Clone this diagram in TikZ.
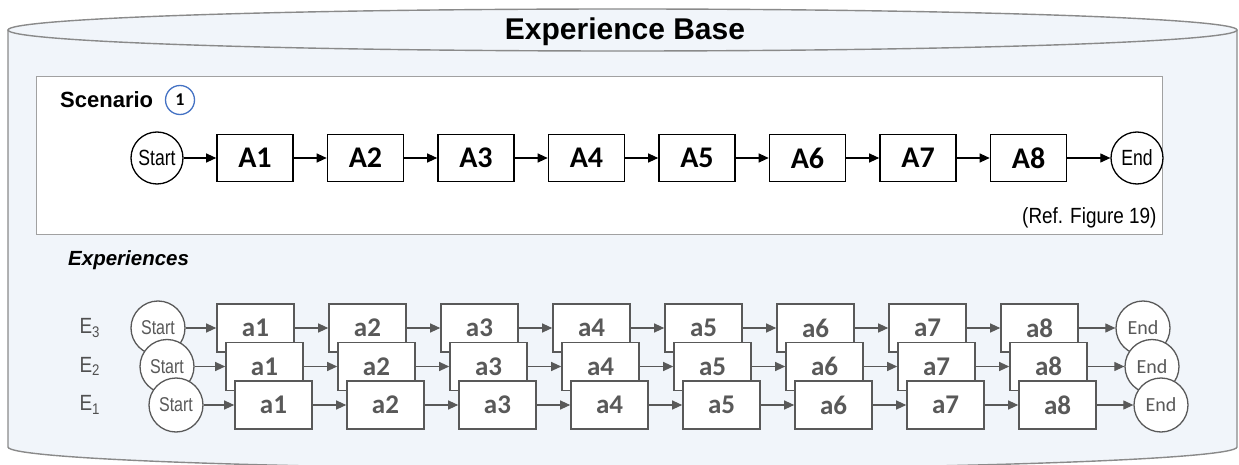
\documentclass[tikz,border=0pt]{standalone}
\usepackage{fontspec}
\setmainfont{Liberation Sans}
\newfontfamily\narrowfont[FakeStretch=0.86]{Liberation Sans}
\newfontfamily\tightfont[FakeStretch=0.8]{Liberation Sans}
\newfontfamily\boxfont{Carlito}
\usetikzlibrary{arrows.meta}

\definecolor{basefill}{HTML}{F1F5FA}
\definecolor{baseedge}{HTML}{8A8A8A}
\definecolor{expgray}{HTML}{595959}
\definecolor{numblue}{HTML}{4472C4}

\begin{document}
\begin{tikzpicture}[x=1pt, y=-1pt,
    stepbox/.style={draw=black, line width=1.6pt, fill=white, minimum width=76pt, minimum height=47pt, inner sep=0pt, font=\boxfont\bfseries\fontsize{30}{30}\selectfont},
    endpoint/.style={circle, draw=black, line width=1.3pt, fill=white, minimum size=52pt, inner sep=0pt, font=\tightfont\fontsize{22}{22}\selectfont},
    flow/.style={-{Triangle[length=10pt, width=9pt]}, line width=1.1pt},
    expbox/.style={stepbox, draw=expgray, text=expgray, minimum width=77pt, minimum height=48pt, font=\boxfont\bfseries\fontsize{27}{27}\selectfont},
    expstart/.style={endpoint, draw=expgray, text=expgray, minimum size=54pt, font=\tightfont\fontsize{20}{20}\selectfont},
    expend/.style={expstart, font=\boxfont\fontsize{20}{20}\selectfont},
    expflow/.style={flow, draw=expgray, fill=expgray, color=expgray}]
    \useasboundingbox (0,0) rectangle (1239,465);

    % Cilindre de la base d'experiencies
    \draw[line width=1.4pt, draw=baseedge, fill=basefill] (8,30) -- (8,447) arc[start angle=180, end angle=0, x radius=614.5, y radius=22] -- (1237,30);
    \draw[line width=1.4pt, draw=baseedge, fill=basefill] (622.5,30) ellipse[x radius=614.5, y radius=21];
    \node[font=\bfseries\fontsize{30}{30}\selectfont] (title) at (625,32) {Experience Base};

    % Escenari amb les activitats A1..A8
    \node[draw=baseedge!80, line width=0.8pt, fill=white, minimum width=1126pt, minimum height=158pt, inner sep=0pt] (scenario) at (599,155) {};
    \node[anchor=west, inner sep=0pt, font=\bfseries\fontsize{22}{22}\selectfont] (sclabel) at (60,100) {Scenario};
    \node[circle, draw=numblue, line width=1.3pt, minimum size=29pt, inner sep=0pt, font=\boxfont\bfseries\fontsize{18}{18}\selectfont] (num) at (180,100) {1};
    \node[endpoint] (s0) at (157,158) {Start};
    \foreach \i in {1,...,8}
        \node[stepbox] (A\i) at ({255+110.5*(\i-1)},158) {A\i};
    \node[endpoint] (s9) at (1137,158) {End};
    \draw[flow] (s0) -- (A1);
    \foreach \i [evaluate=\i as \j using int(\i+1)] in {1,...,7}
        \draw[flow] (A\i) -- (A\j);
    \draw[flow] (A8) -- (s9);
    \node[anchor=east, font=\narrowfont\fontsize{22}{22}\selectfont] (ref) at (1160,218) {(Ref. Figure 19)};

    % Experiencies E3, E2, E1 (una sobre l'altra)
    \node[anchor=west, inner sep=0pt, font=\bfseries\itshape\fontsize{20.5}{20.5}\selectfont] (explabel) at (68,260) {Experiences};
    \foreach \r/\k in {3/0, 2/1, 1/2}{
        \pgfmathsetmacro\dx{9*\k}
        \pgfmathsetmacro\yy{328+38.5*\k}
        \node[anchor=west, text=expgray!90!black, font=\narrowfont\fontsize{22}{22}\selectfont] (E\r) at (76,\yy) {E\textsubscript{\r}};
        \node[expstart] (e\r s) at ({158+\dx},\yy) {Start};
        \foreach \i in {1,...,8}
            \node[expbox] (e\r a\i) at ({255.5+112*(\i-1)+\dx},\yy) {a\i};
        \node[expend] (e\r e) at ({1143+\dx},\yy) {End};
        \draw[expflow] (e\r s) -- (e\r a1);
        \foreach \i [evaluate=\i as \j using int(\i+1)] in {1,...,7}
            \draw[expflow] (e\r a\i) -- (e\r a\j);
        \draw[expflow] (e\r a8) -- (e\r e);
    }
\end{tikzpicture}
\end{document}
